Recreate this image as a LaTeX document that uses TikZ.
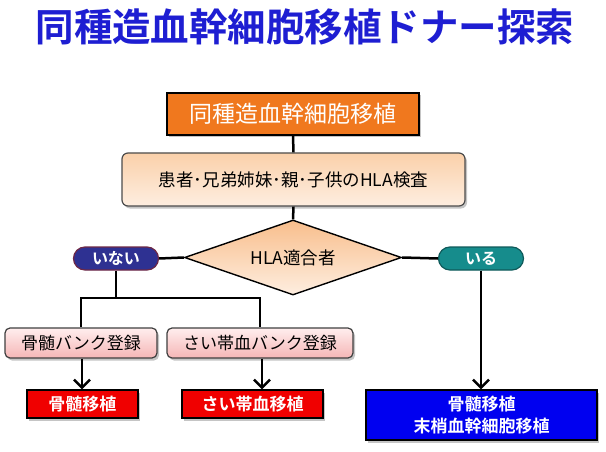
\documentclass[tikz,border=0pt]{standalone}
\usepackage{fontspec}
\setmainfont[BoldFont={Noto Sans CJK JP Bold}]{Noto Sans CJK JP}
\usetikzlibrary{shapes.geometric,shapes.misc,shadows,arrows.meta}
\definecolor{titleblue}{RGB}{30,30,210}
\definecolor{orangebox}{RGB}{240,120,30}
\definecolor{peachtop}{RGB}{250,208,170}
\definecolor{peachbot}{RGB}{254,238,224}
\definecolor{diatop}{RGB}{248,190,140}
\definecolor{naifill}{RGB}{46,49,146}
\definecolor{naiborder}{RGB}{110,40,70}
\definecolor{irufill}{RGB}{22,140,140}
\definecolor{iruborder}{RGB}{15,90,90}
\definecolor{pinktop}{RGB}{255,238,238}
\definecolor{pinkbot}{RGB}{245,182,182}
\definecolor{redbox}{RGB}{240,0,0}
\definecolor{bluebox}{RGB}{0,0,240}
\tikzset{
  shad/.style={drop shadow={shadow xshift=2pt,shadow yshift=-2.5pt,opacity=0.45}},
  topbox/.style={draw=black,line width=1.6pt,fill=orangebox,text=white,font=\fontsize{23}{26}\selectfont,inner sep=0pt,shad},
  peachbox/.style={draw=black!70,line width=1.2pt,rounded corners=6pt,top color=peachtop,bottom color=peachbot,font=\fontsize{17.5}{19}\selectfont,inner sep=0pt,shad},
  decision/.style={diamond,aspect=2.9,draw=black,line width=1.4pt,top color=diatop,bottom color=peachbot,font=\fontsize{17.5}{19}\selectfont,inner sep=0pt},
  pill/.style={rounded rectangle,line width=1.2pt,text=white,font=\bfseries\fontsize{16}{18}\selectfont,inner sep=0pt,minimum width=85pt,minimum height=23pt},
  pinkbox/.style={draw=black!75,line width=1.2pt,rounded corners=5pt,top color=pinktop,bottom color=pinkbot,font=\fontsize{17}{19}\selectfont,inner sep=0pt,minimum height=30pt,shad},
  resultbox/.style={draw=black,line width=1.2pt,text=white,font=\bfseries\fontsize{17}{22}\selectfont,inner sep=0pt,align=center,shad},
  conn/.style={line width=2.5pt,black},
  arr/.style={conn,-{Straight Barb[length=8pt,width=16pt]}}
}
\begin{document}
\begin{tikzpicture}[x=1pt,y=-1pt]
\useasboundingbox[fill=white] (0,0) rectangle (606,452);
\node[text=titleblue,font=\bfseries\fontsize{38.5}{40}\selectfont] (title) at (305,27) {同種造血幹細胞移植ドナー探索};
\node[topbox,minimum width=252pt,minimum height=42pt] (top) at (293,114) {同種造血幹細胞移植};
\node[peachbox,minimum width=343pt,minimum height=53pt] (hla) at (293.5,179.5) {患者･兄弟姉妹･親･子供のHLA検査};
\node[decision,minimum width=217pt,minimum height=75pt] (dec) at (293,257.5) {HLA適合者};
\node[pill,fill=naifill,draw=naiborder] (nai) at (116,258.5) {いない};
\node[pill,fill=irufill,draw=iruborder] (iru) at (481,258.5) {いる};
\node[pinkbox,minimum width=152pt] (bank1) at (81,343) {骨髄バンク登録};
\node[pinkbox,minimum width=186pt] (bank2) at (260,343) {さい帯血バンク登録};
\node[resultbox,fill=redbox,minimum width=111pt,minimum height=28pt] (res1) at (82.5,404) {骨髄移植};
\node[resultbox,fill=redbox,minimum width=141pt,minimum height=28pt] (res2) at (252.5,404) {さい帯血移植};
\node[resultbox,fill=bluebox,minimum width=231pt,minimum height=50pt] (res3) at (481.5,415) {骨髄移植\\末梢血幹細胞移植};
\coordinate (j) at (116,298);
\draw[conn] (top.south) -- (hla.north);
\draw[conn] (hla.south) -- (dec.north);
\draw[conn] (dec.west) -- (nai.east);
\draw[conn] (dec.east) -- (iru.west);
\draw[conn] (nai.south) -- (j);
\draw[conn,line cap=rect] (bank1.north |- j) -- (bank2.north |- j);
\draw[conn] (bank1.north |- j) -- (bank1.north);
\draw[conn] (bank2.north |- j) -- (bank2.north);
\draw[arr] ([xshift=1pt]bank1.south) -- ([xshift=1pt]bank1.south |- res1.north);
\draw[arr] ([xshift=2pt]bank2.south) -- ([xshift=2pt]bank2.south |- res2.north);
\draw[arr] (iru.south) -- (iru.south |- res3.north);
\end{tikzpicture}
\end{document}
